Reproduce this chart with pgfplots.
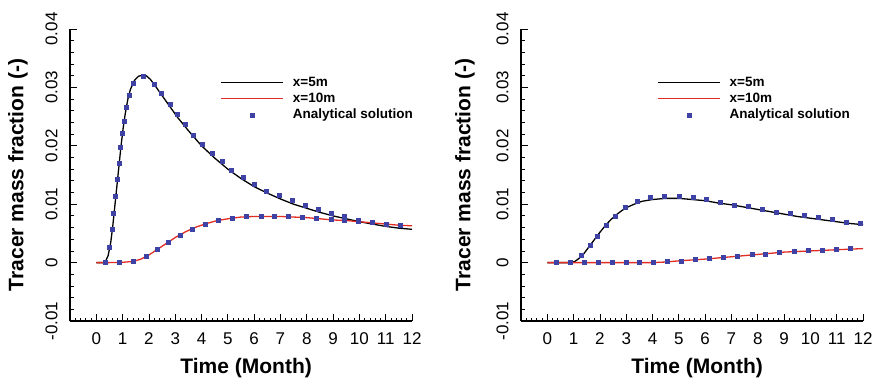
\documentclass[border=0pt]{standalone}
\usepackage{fontspec}
\setmainfont{Liberation Sans}
\usepackage{pgfplots}
\pgfplotsset{compat=1.18}
\definecolor{mblue}{RGB}{62,66,165}
\definecolor{lred}{RGB}{225,45,35}
\pgfplotsset{
  tracer/.style={
    scale only axis, width=342pt, height=292pt,
    axis lines=left, axis line style={-, line width=1.1pt},
    xmin=-1, xmax=12, ymin=-0.01, ymax=0.04,
    xtick={-1,0,...,12}, xticklabels={,0,1,2,3,4,5,6,7,8,9,10,11,12},
    ytick={-0.01,0,0.01,0.02,0.03,0.04},
    yticklabels={-0.01,0,0.01,0.02,0.03,0.04},
    scaled y ticks=false, scaled x ticks=false,
    minor x tick num=4, minor y tick num=4,
    major tick length=7pt, minor tick length=3.5pt,
    tick style={black, line width=0.8pt},
    tick align=inside,
    /pgf/number format/assume math mode=true,
    ticklabel style={font=\fontsize{17}{20}\selectfont},
    xticklabel style={yshift=-8pt},
    yticklabel style={rotate=90, anchor=south, yshift=9pt},
    xlabel={Time (Month)}, ylabel={Tracer mass fraction (-)},
    label style={font=\bfseries\fontsize{21}{24}\selectfont},
    xlabel style={at={(axis description cs:0.515,-0.162)}, anchor=center},
    legend cell align=left,
    legend style={draw=none, fill=none, inner sep=0pt, row sep=0pt,
      font=\bfseries\fontsize{13.5}{16}\selectfont,
      nodes={inner sep=1.3pt, text height=10.5pt, text depth=3pt}},
  },
  lineleg/.style={legend image code/.code={\draw[##1, line width=1.6pt] (0pt,0pt) -- (62pt,0pt); \path (70pt,0pt);}},
  markleg/.style={legend image code/.code={\draw[mark repeat=2,mark phase=2,##1] plot coordinates {(0pt,0pt)(31pt,0pt)(62pt,0pt)}; \path (70pt,0pt);}},
}
\begin{document}
\begin{tikzpicture}
\useasboundingbox (0,0) rectangle (874pt,381pt);
% ---------------- left panel ----------------
\begin{axis}[tracer, at={(70pt,60pt)}, anchor=south west,
  ylabel style={at={(axis description cs:-0.152,0.5)}, anchor=center},
  legend style={at={(axis description cs:0.4386,0.845)}, anchor=north west}]
\addplot[black, line width=1.3pt, lineleg] coordinates {
(0,0) (0.25,0) (0.35,0.0002) (0.45,0.0012) (0.55,0.0035) (0.62,0.0060) (0.70,0.0095)
(0.78,0.0130) (0.86,0.0165) (0.94,0.0200) (1.02,0.0230) (1.10,0.0255) (1.20,0.0280)
(1.30,0.0297) (1.45,0.0312) (1.60,0.0319) (1.75,0.0321) (1.90,0.0320) (2.05,0.0314)
(2.25,0.0302) (2.5,0.0286) (2.8,0.0267) (3.1,0.0248) (3.5,0.0226) (4.0,0.0200)
(4.5,0.0179) (5.0,0.0160) (5.5,0.0144) (6.0,0.0130) (6.5,0.0119) (7.0,0.0109)
(7.5,0.0100) (8.0,0.0093) (8.5,0.0086) (9.0,0.0080) (9.5,0.0075) (10,0.0070)
(10.5,0.0066) (11,0.0062) (11.5,0.0059) (12,0.0057)};
\addlegendentry{x=5m}
\addplot[lred, line width=1.3pt, lineleg] coordinates {
(0,0) (0.5,0) (1.0,0.00005) (1.4,0.0002) (1.7,0.0006) (2.0,0.0013) (2.3,0.0022)
(2.6,0.0031) (3.0,0.0043) (3.4,0.0053) (3.8,0.0061) (4.2,0.0067) (4.6,0.0072)
(5.0,0.0075) (5.5,0.0078) (6.0,0.0079) (6.5,0.0079) (7.0,0.0079) (7.5,0.0078)
(8.0,0.0077) (8.5,0.0075) (9.0,0.0073) (9.5,0.0072) (10,0.0070) (10.5,0.0068)
(11,0.0066) (11.5,0.0064) (12,0.0063)};
\addlegendentry{x=10m}
\addplot[only marks, mark=square*, mark size=2pt, mblue, markleg] coordinates {
(0.35,0.0001) (0.50,0.0026) (0.61,0.0057) (0.66,0.0085) (0.73,0.0114) (0.81,0.0143)
(0.88,0.0170) (0.92,0.0198) (1.00,0.0222) (1.07,0.0242) (1.15,0.0266) (1.26,0.0287)
(1.41,0.0307) (1.77,0.0319) (2.21,0.0305) (2.48,0.0290) (2.79,0.0272) (3.09,0.0254)
(3.38,0.0237) (3.69,0.0219) (4.04,0.0203) (4.39,0.0188) (4.77,0.0173) (5.13,0.0159)
(5.60,0.0147) (6.02,0.0135) (6.46,0.0123) (6.96,0.0115) (7.45,0.0106) (7.95,0.0098)
(8.45,0.0091) (8.94,0.0084) (9.44,0.0079) (9.97,0.0073) (10.49,0.0069) (11.03,0.0066)
(11.57,0.0064)};
\addlegendentry{Analytical solution}
\addplot[only marks, mark=square*, mark size=2pt, mblue, forget plot] coordinates {
(0.34,0) (0.87,0) (1.40,0.0002) (1.90,0.0011) (2.33,0.0023) (2.75,0.0035) (3.20,0.0047)
(3.66,0.0057) (4.14,0.0065) (4.65,0.0073) (5.18,0.0076) (5.71,0.0079) (6.25,0.0079)
(6.78,0.0079) (7.31,0.0079) (7.83,0.0078) (8.36,0.0076) (8.91,0.0074) (9.44,0.0073)
(9.97,0.0071) (10.50,0.0069) (11.03,0.0066) (11.57,0.0064)};
\end{axis}
% ---------------- right panel ----------------
\begin{axis}[tracer, at={(521pt,60pt)}, anchor=south west,
  ylabel style={at={(axis description cs:-0.164,0.5)}, anchor=center},
  legend style={at={(axis description cs:0.397,0.845)}, anchor=north west}]
\addplot[black, line width=1.3pt, lineleg] coordinates {
(0,0) (0.9,0) (1.05,0.0002) (1.2,0.0007) (1.4,0.0016) (1.6,0.0028) (1.8,0.0040)
(2.0,0.0052) (2.2,0.0063) (2.4,0.0073) (2.6,0.0081) (2.8,0.0088) (3.0,0.0094)
(3.3,0.0100) (3.6,0.0105) (4.0,0.0108) (4.5,0.0110) (5.0,0.0110) (5.5,0.0108)
(6.0,0.0106) (6.5,0.0102) (7,0.0099) (7.5,0.0095) (8,0.0091) (8.5,0.0087)
(9,0.0083) (9.5,0.0079) (10,0.0076) (10.5,0.0073) (11,0.0070) (11.5,0.0067) (12,0.0065)};
\addlegendentry{x=5m}
\addplot[lred, line width=1.3pt, lineleg] coordinates {
(0,0) (4,0) (4.5,0.0001) (5,0.0003) (6,0.0006) (7,0.0010) (8,0.0014) (9,0.0018)
(10,0.0020) (11,0.0022) (12,0.0024)};
\addlegendentry{x=10m}
\addplot[only marks, mark=square*, mark size=2pt, mblue, markleg] coordinates {
(0.33,0) (0.86,0) (1.27,0.0013) (1.62,0.0029) (1.91,0.0046) (2.23,0.0064) (2.57,0.0079)
(2.95,0.0095) (3.41,0.0105) (3.91,0.0112) (4.44,0.0114) (5.00,0.0114) (5.55,0.0112)
(6.04,0.0108) (6.56,0.0104) (7.09,0.0099) (7.64,0.0096) (8.16,0.0091) (8.69,0.0087)
(9.23,0.0084) (9.76,0.0081) (10.29,0.0077) (10.82,0.0074) (11.36,0.0070) (11.89,0.0067)};
\addlegendentry{Analytical solution}
\addplot[only marks, mark=square*, mark size=2pt, mblue, forget plot] coordinates {
(0.33,0) (0.86,0) (1.39,0) (1.92,0) (2.45,0) (2.98,0) (3.51,0) (4.04,0) (4.57,0.0002)
(5.10,0.0003) (5.64,0.0005) (6.17,0.0007) (6.70,0.0009) (7.23,0.0011) (7.77,0.0014)
(8.30,0.0015) (8.83,0.0017) (9.37,0.0019) (9.90,0.0021) (10.44,0.0021) (10.97,0.0023)
(11.50,0.0025)};
\end{axis}
\end{tikzpicture}
\end{document}
